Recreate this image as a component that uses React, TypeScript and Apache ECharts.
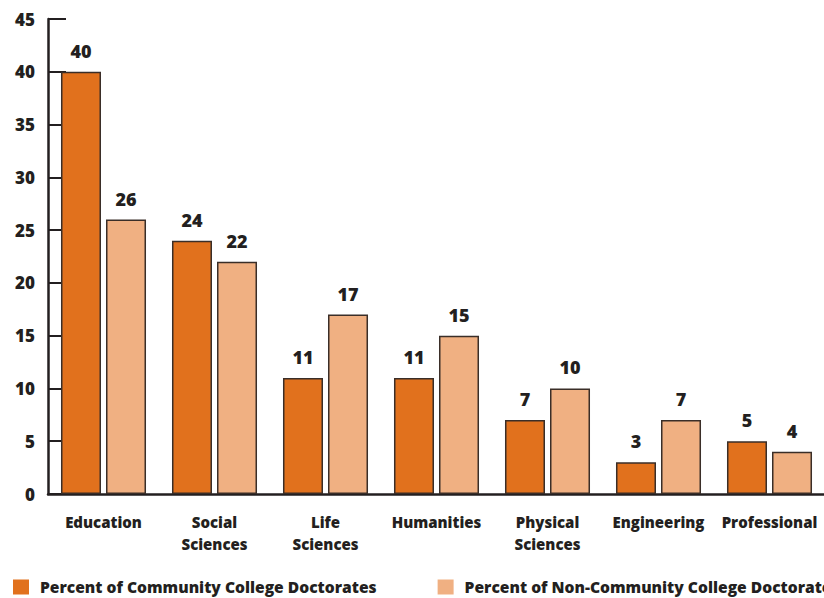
import React, { useEffect, useRef } from "react";
import * as echarts from "echarts";

const categories = [
  "Education",
  "Social\nSciences",
  "Life\nSciences",
  "Humanities",
  "Physical\nSciences",
  "Engineering",
  "Professional",
];
const communityValues = [40, 24, 11, 11, 7, 3, 5];
const nonCommunityValues = [26, 22, 17, 15, 10, 7, 4];
const seriesNames = [
  "Percent of Community College Doctorates",
  "Percent of Non-Community College Doctorates",
];
const yTicks = { min: 0, max: 45, interval: 5 };

const FONT = "Open Sans";
const INK = "#231f20";

export default function App() {
  const ref = useRef<HTMLDivElement>(null);
  useEffect(() => {
    if (!ref.current) return;
    const chart = echarts.init(ref.current, null, { renderer: "svg" });
    const labelStyle = {
      show: true,
      position: "top" as const,
      distance: 12,
      fontSize: 18,
      fontWeight: 800,
      fontFamily: FONT,
      color: INK,
    };
    chart.setOption({
      animation: false,
      textStyle: { fontFamily: FONT },
      grid: { left: 48, top: 19, width: 777, height: 475, containLabel: false },
      legend: {
        left: 13,
        top: 579,
        padding: 0,
        itemWidth: 16,
        itemHeight: 15,
        itemGap: 61,
        icon: "rect",
        itemStyle: { borderWidth: 0 },
        textStyle: {
          fontSize: 15.6,
          fontWeight: 800,
          fontFamily: FONT,
          color: INK,
          padding: [0, 0, 0, 6],
        },
        data: seriesNames,
      },
      xAxis: {
        type: "category",
        data: categories,
        axisLine: { lineStyle: { color: INK, width: 2.5 } },
        axisTick: { inside: true, length: 10, lineStyle: { color: INK, width: 2 } },
        axisLabel: {
          margin: 17,
          fontSize: 15,
          fontWeight: 800,
          fontFamily: FONT,
          color: INK,
          lineHeight: 22,
          interval: 0,
        },
      },
      yAxis: {
        type: "value",
        min: yTicks.min,
        max: yTicks.max,
        interval: yTicks.interval,
        splitLine: { show: false },
        axisLine: { show: true, lineStyle: { color: INK, width: 2.5 } },
        axisTick: { show: true, inside: true, length: 18, lineStyle: { color: INK, width: 2 } },
        axisLabel: {
          margin: 13,
          fontSize: 17,
          fontWeight: 800,
          fontFamily: FONT,
          color: INK,
        },
      },
      series: [
        {
          name: seriesNames[0],
          type: "bar",
          data: communityValues,
          barGap: "12.5%",
          barCategoryGap: "23.4%",
          itemStyle: { color: "#e1711d", borderColor: "#3a2e28", borderWidth: 1.5 },
          label: labelStyle,
        },
        {
          name: seriesNames[1],
          type: "bar",
          data: nonCommunityValues,
          itemStyle: { color: "#f0b082", borderColor: "#3a2e28", borderWidth: 1.5 },
          label: labelStyle,
        },
      ],
    });
    return () => chart.dispose();
  }, []);
  return (
    <div
      style={{
        position: "fixed",
        left: 0,
        top: 0,
        width: 824,
        height: 598,
        overflow: "hidden",
        background: "#fff",
      }}
    >
      <div ref={ref} style={{ width: 1000, height: 598 }} />
    </div>
  );
}
